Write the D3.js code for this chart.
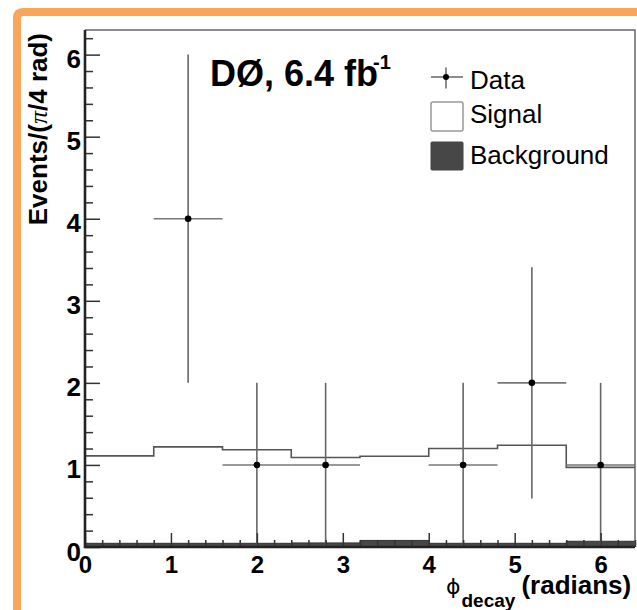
<!DOCTYPE html>
<html>
<head>
<meta charset="utf-8">
<script src="https://cdn.jsdelivr.net/npm/d3@7"></script>
<style>
    body { margin: 0; background: #fff; }
    svg { display: block; }
</style>
</head>
<body>
<svg id="svg_panel" width="637" height="610"></svg>
<script>
// bins of the histogram (low edge, width 0.8 rad)
var binLow = [0, 0.8, 1.6, 2.4, 3.2, 4.0, 4.8, 5.6];
var binWidth = 0.8;
var signalValues = [1.11, 1.22, 1.185, 1.09, 1.105, 1.20, 1.24, 0.97];
var backgroundValues = [0.045, 0.045, 0.045, 0.05, 0.08, 0.045, 0.045, 0.07];
// data points (bin centres), counts and errors
var dataX = [1.2, 2.0, 2.8, 4.4, 5.2, 6.0];
var dataY = [4, 1, 1, 1, 2, 1];
var dataErrLow = [2, 1, 1, 1, 1.41, 1];
var dataErrHigh = [2, 1, 1, 1, 1.41, 1];
var xTicks = [0, 1, 2, 3, 4, 5, 6];
var yTicks = [0, 1, 2, 3, 4, 5, 6];
var legendLabels = ["Data", "Signal", "Background"];

var svg = d3.select("#svg_panel"),
    plotLeft = 85, plotRight = 635, plotTop = 30, plotBottom = 547;

var font = "'Liberation Sans', Arial, Helvetica, sans-serif";

// orange frame
svg.append("path")
    .attr("d", "M17,640 L17,18 Q17,12 23,12 L660,12")
    .attr("fill", "none")
    .attr("stroke", "#f9a65a")
    .attr("stroke-width", 8);

var xScale = d3.scaleLinear().domain([0, 6.4]).range([plotLeft, plotRight]),
    yScale = d3.scaleLinear().domain([0, 6.3]).range([plotBottom, plotTop]);

var g = svg.append("g");

// background (filled, dark)
var bgArea = d3.area()
    .curve(d3.curveStepAfter)
    .x(function (d) { return xScale(d.x); })
    .y0(yScale(0))
    .y1(function (d) { return yScale(d.v); });
var bgPts = binLow.map(function (b, i) { return { x: b, v: backgroundValues[i] }; });
bgPts.push({ x: binLow[binLow.length - 1] + binWidth, v: backgroundValues[backgroundValues.length - 1] });
g.append("path")
    .datum(bgPts)
    .attr("d", bgArea)
    .attr("fill", "#474747")
    .attr("stroke", "#333")
    .attr("stroke-width", 1);

// signal histogram (line)
var sigPts = binLow.map(function (b, i) { return { x: b, v: signalValues[i] }; });
sigPts.push({ x: binLow[binLow.length - 1] + binWidth, v: signalValues[signalValues.length - 1] });
var sigLine = d3.line()
    .curve(d3.curveStepAfter)
    .x(function (d) { return xScale(d.x); })
    .y(function (d) { return yScale(d.v); });
g.append("path")
    .datum(sigPts)
    .attr("d", sigLine)
    .attr("fill", "none")
    .attr("stroke", "#555")
    .attr("stroke-width", 1.6);

// data points with error bars
var pts = dataX.map(function (x, i) {
    return { x: x, y: dataY[i], lo: dataErrLow[i], hi: dataErrHigh[i] };
});
var dp = g.selectAll(".pt").data(pts).enter().append("g").attr("class", "pt");
dp.append("line")
    .attr("x1", function (d) { return xScale(d.x - binWidth / 2); })
    .attr("x2", function (d) { return xScale(d.x + binWidth / 2); })
    .attr("y1", function (d) { return yScale(d.y); })
    .attr("y2", function (d) { return yScale(d.y); })
    .attr("stroke", "#777")
    .attr("stroke-width", 1.6);
dp.append("line")
    .attr("x1", function (d) { return xScale(d.x); })
    .attr("x2", function (d) { return xScale(d.x); })
    .attr("y1", function (d) { return yScale(d.y - d.lo); })
    .attr("y2", function (d) { return yScale(d.y + d.hi); })
    .attr("stroke", "#666")
    .attr("stroke-width", 1.6);
dp.append("circle")
    .attr("cx", function (d) { return xScale(d.x); })
    .attr("cy", function (d) { return yScale(d.y); })
    .attr("r", 3.3)
    .attr("fill", "#000");

// frame top/right
g.append("path")
    .attr("d", "M" + plotLeft + "," + plotTop + "H" + plotRight + "V" + plotBottom)
    .attr("fill", "none")
    .attr("stroke", "#666")
    .attr("stroke-width", 1.5);

// y axis
var yMinor = d3.range(0, 6.3, 0.2).filter(function (v) { return Math.abs(v - Math.round(v)) > 0.01; });
g.append("g")
    .attr("transform", "translate(" + plotLeft + ",0)")
    .call(d3.axisLeft(yScale).tickValues(yMinor).tickSize(-8).tickFormat(""))
    .call(function (a) { a.select(".domain").remove(); });
var yAx = g.append("g")
    .attr("transform", "translate(" + plotLeft + ",0)")
    .call(d3.axisLeft(yScale).tickValues(yTicks).tickSize(-15).tickPadding(4).tickFormat(d3.format("d")));
yAx.select(".domain").remove();
yAx.selectAll("text")
    .attr("dy", "0.5em")
    .attr("font-family", font)
    .attr("font-weight", "bold")
    .attr("font-size", "26px")
    .attr("fill", "#000");

// x axis
var xMinor = d3.range(0, 6.41, 0.2).filter(function (v) { return Math.abs(v - Math.round(v)) > 0.01; });
g.append("g")
    .attr("transform", "translate(0," + plotBottom + ")")
    .call(d3.axisBottom(xScale).tickValues(xMinor).tickSize(-7).tickFormat(""))
    .call(function (a) { a.select(".domain").remove(); });
var xAx = g.append("g")
    .attr("transform", "translate(0," + plotBottom + ")")
    .call(d3.axisBottom(xScale).tickValues(xTicks).tickSize(-14).tickPadding(9).tickFormat(d3.format("d")));
xAx.select(".domain").remove();
xAx.selectAll("text")
    .attr("font-family", font)
    .attr("font-weight", "bold")
    .attr("font-size", "24px")
    .attr("fill", "#000");
g.selectAll(".tick line").attr("stroke", "#333").attr("stroke-width", 1.5);

// thick left/bottom axis lines
g.append("path")
    .attr("d", "M" + plotLeft + "," + plotTop + "V" + plotBottom + "H" + plotRight)
    .attr("fill", "none")
    .attr("stroke", "#222")
    .attr("stroke-width", 2.6);

// axis titles
var yTitle = svg.append("text")
    .attr("transform", "translate(47,33) rotate(-90)")
    .attr("text-anchor", "end")
    .attr("font-family", font)
    .attr("font-weight", "bold")
    .attr("font-size", "26px")
    .attr("fill", "#000");
yTitle.append("tspan").text("Events/(");
yTitle.append("tspan").attr("font-family", "'Liberation Serif', serif").attr("font-style", "italic").attr("font-weight", "normal").text("π");
yTitle.append("tspan").text("/4 rad)");

var xTitle = svg.append("text")
    .attr("x", 446)
    .attr("y", 594)
    .attr("font-family", font)
    .attr("font-weight", "bold")
    .attr("font-size", "26px")
    .attr("fill", "#000");
xTitle.append("tspan").attr("font-family", "'DejaVu Sans', sans-serif").attr("font-weight", "normal").attr("font-size", "22px").text("ϕ");
xTitle.append("tspan").attr("font-size", "19px").attr("dy", 13).attr("dx", 1).text("decay");
xTitle.append("tspan").attr("dy", -13).attr("dx", 6).text("(radians)");

// experiment label
var lbl = svg.append("text")
    .attr("x", 210)
    .attr("y", 86)
    .attr("font-family", font)
    .attr("font-weight", "bold")
    .attr("font-size", "36px")
    .attr("fill", "#000");
lbl.append("tspan").text("DØ, 6.4 fb");
lbl.append("tspan").attr("font-size", "20px").attr("dy", -17).attr("dx", -5).text("-1");

// legend
var lg = svg.append("g");
lg.append("line").attr("x1", 431).attr("x2", 463).attr("y1", 77).attr("y2", 77).attr("stroke", "#666").attr("stroke-width", 1.5);
lg.append("line").attr("x1", 446).attr("x2", 446).attr("y1", 67.5).attr("y2", 88.5).attr("stroke", "#666").attr("stroke-width", 1.5);
lg.append("circle").attr("cx", 446).attr("cy", 77).attr("r", 3).attr("fill", "#000");
lg.append("rect").attr("x", 431).attr("y", 102).attr("width", 32).attr("height", 29).attr("rx", 2)
    .attr("fill", "#fff").attr("stroke", "#999").attr("stroke-width", 1.5);
lg.append("rect").attr("x", 431).attr("y", 142).attr("width", 32).attr("height", 28).attr("rx", 1)
    .attr("fill", "#474747").attr("stroke", "#444").attr("stroke-width", 1);
lg.selectAll(".lt").data(legendLabels).enter().append("text")
    .attr("class", "lt")
    .attr("x", 470)
    .attr("y", function (d, i) { return [89, 123, 164][i]; })
    .attr("font-family", font)
    .attr("font-size", "26px")
    .attr("fill", "#000")
    .text(function (d) { return d; });
</script>
</body>
</html>
